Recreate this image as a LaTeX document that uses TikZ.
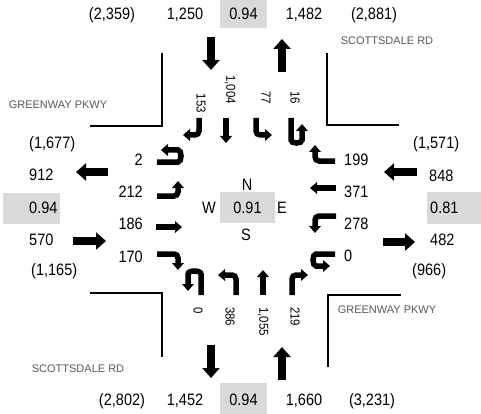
\documentclass[tikz,border=0pt]{standalone}
\usepackage{fontspec}
\setmainfont{Liberation Sans}
\newfontfamily\narrowfont{Liberation Sans}[FakeStretch=0.88]
\usetikzlibrary{arrows.meta}
\definecolor{boxgray}{RGB}{217,217,217}
\definecolor{roadgray}{RGB}{89,89,89}
\tikzset{
	vol/.style={font=\narrowfont\fontsize{16.5}{18}\selectfont, inner sep=0pt, anchor=base},
	lanevol/.style={font=\narrowfont\fontsize{13}{15}\selectfont, inner sep=0pt, rotate=-90},
	roadname/.style={font=\fontsize{11}{13}\selectfont, text=roadgray, inner sep=0pt},
	bigarrow/.style={line width=7.5pt, -{Triangle[width=17pt,length=10pt]}},
	lane/.style={line width=5.5pt, rounded corners=4pt, -{Triangle[width=11.5pt,length=7pt]}},
	curb/.style={line width=2pt},
}
\begin{document}
\begin{tikzpicture}[x=1pt,y=-1pt]
		\useasboundingbox (0,0) rectangle (481,414);
		% grey boxes
		\fill[boxgray] (220,0) rectangle (267,28);
		\fill[boxgray] (220,383) rectangle (267,414);
		\fill[boxgray] (3,193) rectangle (60,224);
		\fill[boxgray] (427,192) rectangle (481,224);
		\fill[boxgray] (220,192) rectangle (275,223);
		
		% curbs
		\draw[curb] (162,53) -- (162,126) -- (90,126);
		\draw[curb] (327,53) -- (327,125) -- (399,125);
		\draw[curb] (90,293) -- (162,293) -- (162,357);
		\draw[curb] (328,367) -- (328,295) -- (401,295);
		\node[roadname] (gwnw) at (58,105) {GREENWAY PKWY};
		\node[roadname] (scne) at (387,41) {SCOTTSDALE RD};
		\node[roadname] (scsw) at (78,369) {SCOTTSDALE RD};
		\node[roadname] (gwse) at (387,310) {GREENWAY PKWY};
		
		% top and bottom rows
		\foreach \x/\t [count=\i] in {112/{(2,359)},185/{1,250},243.5/{0.94},304/{1,482},374/{(2,881)}}
		{
		\node[vol] (n\i) at (\x,20) {\t};
		}
		\foreach \x/\t [count=\i] in {122/{(2,802)},185/{1,452},243.5/{0.94},304/{1,660},372/{(3,231)}}
		{
		\node[vol] (s\i) at (\x,405) {\t};
		}
		
		% left and right columns
		\foreach \x/\y/\t [count=\i] in {29/149/{(1,677)},29/180/{912},29/213/{0.94},29/245/{570},31/275/{(1,165)}}
		{
		\node[vol,anchor=base west] (w\i) at (\x,\y) {\t};
		}
		\foreach \x/\y/\t [count=\i] in {413/149/{(1,571)},429/181/{848},430/213/{0.81},430/245/{482},412/275/{(966)}}
		{
		\node[vol,anchor=base west] (e\i) at (\x,\y) {\t};
		}
		
		% approach volumes
		\foreach \y/\t [count=\i] in {165/2,197/212,229/186,262/170}
		{
		\node[vol,anchor=base east] (wl\i) at (143,\y) {\t};
		}
		\foreach \y/\t [count=\i] in {165/199,197/371,229/278,261/0}
		{
		\node[vol,anchor=base west] (el\i) at (344,\y) {\t};
		}
		\foreach \x/\y/\t [count=\i] in {201/113/153,230/104/{1,004},266/104/77,295/104/16}
		{
		\node[lanevol,anchor=east] (nl\i) at (\x,\y) {\t};
		}
		\foreach \x/\t [count=\i] in {198/0,230/386,263/{1,055},295/219}
		{
		\node[lanevol,anchor=west] (sl\i) at (\x,307) {\t};
		}
		
		% centre
		\node[vol] (cn) at (247,190) {N};
		\node[vol] (cw) at (209,213) {W};
		\node[vol] (cc) at (247.5,213) {0.91};
		\node[vol] (ce) at (282,213) {E};
		\node[vol] (cs) at (246,240) {S};
		
		% in and out arrows
		\draw[bigarrow] (211,37) -- (211,70);
		\draw[bigarrow] (282,72) -- (282,39);
		\draw[bigarrow] (211,345) -- (211,378);
		\draw[bigarrow] (282,380) -- (282,347);
		\draw[bigarrow] (108,172) -- (76,172);
		\draw[bigarrow] (73,241) -- (106,241);
		\draw[bigarrow] (417,172) -- (384,172);
		\draw[bigarrow] (383,242) -- (415,242);
		
		% southbound lanes
		\draw[lane] (199,118) -- (199,135) -- (183,135);
		\draw[lane] (226,118) -- (226,143);
		\draw[lane] (256,118) -- (256,135) -- (272,135);
		\draw[lane] (291,118) -- (291,136) .. controls (291,144) and (302,144) .. (302,136) -- (302,124);
		
		% northbound lanes
		\draw[lane] (201,295) -- (201,278) .. controls (201,270) and (188,270) .. (188,278) -- (188,291);
		\draw[lane] (236,295) -- (236,275) -- (218,275);
		\draw[lane] (263,295) -- (263,270);
		\draw[lane] (292,295) -- (292,275) -- (308,275);
		
		% eastbound lanes
		\draw[lane] (157,162) -- (174,162) .. controls (182,162) and (182,150) .. (174,150) -- (161,150);
		\draw[lane] (157,196) -- (178,196) -- (178,181);
		\draw[lane] (156,227) -- (182,227);
		\draw[lane] (157,254) -- (178,254) -- (178,270);
		
		% westbound lanes
		\draw[lane] (335,161) -- (315,161) -- (315,145);
		\draw[lane] (336,188) -- (310,188);
		\draw[lane] (336,216) -- (315,216) -- (315,233);
		\draw[lane] (335,254) -- (320,254) .. controls (312,254) and (312,266) .. (320,266) -- (330,266);
	\end{tikzpicture}
\end{document}
